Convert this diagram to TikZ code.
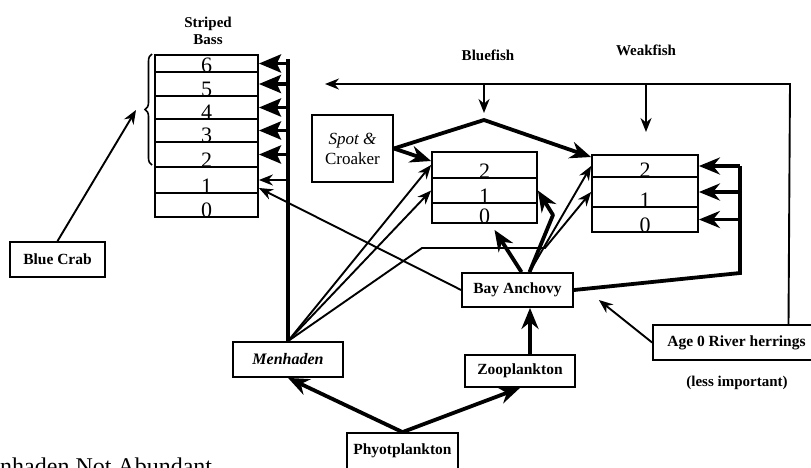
\documentclass[tikz,border=0pt]{standalone}
\usepackage{fontspec}
\setmainfont{Liberation Serif}
\usetikzlibrary{calc,arrows.meta,decorations.pathreplacing}

\begin{document}
\begin{tikzpicture}[x=1pt,y=-1pt,>=Stealth,
  box/.style={draw,line width=1.8pt,inner sep=0pt,font=\fontsize{15.5}{17}\selectfont\bfseries},
  row/.style={draw,line width=1.8pt,inner sep=0pt},
  dig/.style={anchor=base,inner sep=0pt,font=\fontsize{22}{22}\selectfont},
  lab/.style={font=\fontsize{15}{17}\selectfont\bfseries,align=center},
  eat/.style={line width=1.9pt,-{Stealth[length=14pt,width=11pt]}},
  bigeat/.style={line width=3.8pt,line join=round,-{Stealth[length=21pt,width=17pt]}},
  rowin/.style={line width=3.8pt,-{Stealth[length=22pt,width=18pt,inset=4pt]}},
  trunk/.style={line width=3.8pt}]
  \useasboundingbox (0,0) rectangle (811,467);
  \clip (0,0) rectangle (811,467);

  % striped bass age classes
  \node[lab] (sbt) at (208,31) {Striped\\Bass};
  \foreach \n/\y/\h in {6/63.5/17,5/84/24,4/107.5/23,3/130.5/23,2/154.5/25,1/180/26,0/205/24}{
    \node[row,minimum width=103pt,minimum height=\h*1pt] (sb\n) at (206.5,\y) {};
    \node[dig] (sbd\n) at (sb\n.south) {\n};
  }
  \draw[line width=1.6pt,decorate,decoration={brace,amplitude=7pt}] (152,165) -- (152,54);
  \coordinate (brace) at (136,110);

  % bluefish and weakfish
  \node[lab] (bft) at (488,55) {Bluefish};
  \node[lab] (wft) at (646,50) {Weakfish};
  \foreach \n/\y/\h in {2/165/26,1/190.5/25,0/213/20}{
    \node[row,minimum width=105pt,minimum height=\h*1pt] (bf\n) at (484.5,\y) {};
    \node[dig] (bfd\n) at (bf\n.south) {\n};
  }
  \foreach \n/\y/\h in {2/166/22,1/192/30,0/219.5/25}{
    \node[row,minimum width=106pt,minimum height=\h*1pt] (wf\n) at (645,\y) {};
    \node[dig] (wfd\n) at (wf\n.south) {\n};
  }

  % prey boxes
  \node[box,minimum width=95pt,minimum height=35pt] (bc) at (57.5,259.5) {Blue Crab};
  \node[box,minimum width=81pt,minimum height=67pt,font=\fontsize{17}{20}\selectfont,align=center]
    (sc) at (352.5,148.5) {\textit{Spot \&}\\Croaker};
  \node[box,minimum width=111pt,minimum height=34pt] (bay) at (517.5,290) {Bay Anchovy};
  \node[box,minimum width=110pt,minimum height=35pt,font=\fontsize{16}{17}\selectfont\bfseries\itshape]
    (men) at (288,359.5) {Menhaden};
  \node[box,minimum width=110pt,minimum height=32pt] (zoo) at (520,371) {Zooplankton};
  \node[box,minimum width=111pt,minimum height=36pt] (phy) at (402.5,451) {Phyotplankton};
  \node[box,minimum width=167pt,minimum height=35pt] (age) at (736.5,342.5) {Age 0 River herrings};
  \node[lab] (less) at (737,383) {(less important)};
  \node[anchor=base west,inner sep=0pt,font=\fontsize{24}{24}\selectfont] (title) at (-32,474) {Menhaden Not Abundant};

  \coordinate (mtop) at (288,59);
  \coordinate (corner) at (790,84);
  \coordinate (topl) at (325,84);
  \coordinate (apex) at (484,120);
  \coordinate (mbend) at (422,248);
  \coordinate (mend) at (545,248);
  \coordinate (bbend) at (553,215);
  \coordinate (wfR) at (740,273);

  % menhaden to striped bass
  \draw[eat] (bc.north) -- (brace);
  \draw[trunk] (men.north) -- (mtop);
  \foreach \n in {6,5,4,3,2}
    \draw[rowin] (sb\n.east -| mtop) -- (sb\n.east);
  \draw[eat] (sb1.east -| mtop) -- (sb1.east);
  \draw[eat] (bay.west) -- ([yshift=-8pt]sb1.east);

  % menhaden and anchovy to bluefish, weakfish
  \draw[eat] (men.north) -- (bf2.west);
  \draw[eat] (men.north) -- (bf1.west);
  \draw[eat] (men.north) -- (mbend) -- (mend) -- (wf1.west);
  \draw[eat] ([xshift=12pt]bay.north) -- (wf2.west);
  \draw[bigeat] ([xshift=4pt]bay.north) -- ([xshift=10pt,yshift=-6pt]bf0.south);
  \draw[bigeat] ([xshift=12pt]bay.north) -- (bbend) -- (bf1.east);
  \draw[trunk] (bay.east) -- (wfR) -- (wfR |- wf2.east);
  \foreach \n in {2,1,0}
    \draw[bigeat] (wfR |- wf\n.east) -- (wf\n.east);

  % plankton
  \draw[bigeat] ([xshift=10pt]zoo.north) -- ([xshift=10pt]zoo.north |- bay.south);
  \draw[bigeat] (phy.north) -- (men.south);
  \draw[bigeat] (phy.north) -- (zoo.south);

  % river herrings
  \draw[eat] (age.west) -- ([xshift=25pt,yshift=-10pt]bay.east);
  \draw[eat] ([xshift=52pt]age.north) -- (corner) -- (topl);
  \draw[eat] (apex |- topl) -- ([yshift=7pt]apex);
  \draw[eat] (wft |- topl) -- ++(0,48);

  % spot and croaker
  \draw[bigeat] (sc.east) -- (apex) -- ([yshift=9pt]wf2.west);
  \draw[bigeat] (sc.east) -- ([yshift=4pt]bf2.west);
\end{tikzpicture}
\end{document}
